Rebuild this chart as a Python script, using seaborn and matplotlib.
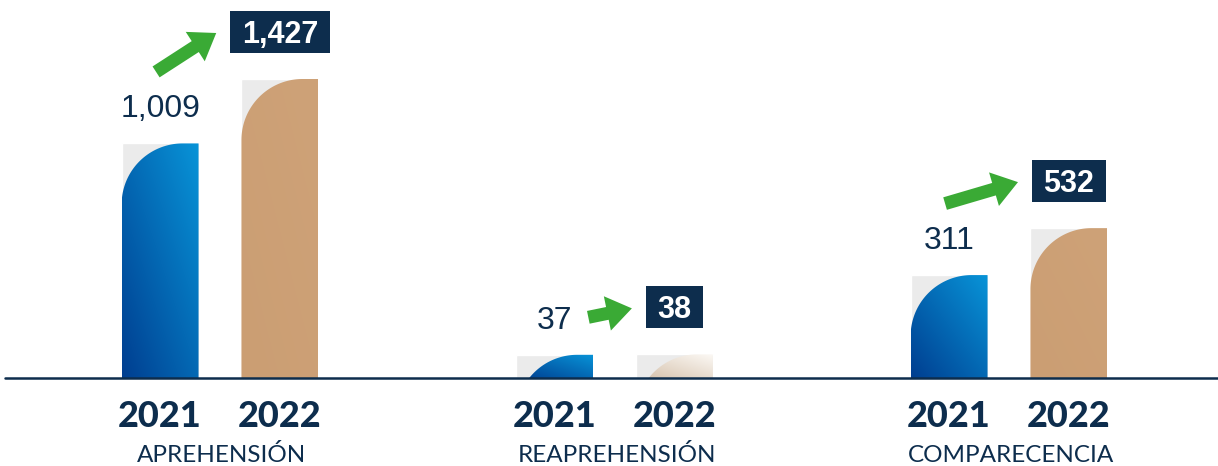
import numpy as np
import pandas as pd
import matplotlib
matplotlib.use("Agg")
import matplotlib.pyplot as plt
import seaborn as sns
from matplotlib.patches import PathPatch, Rectangle, FancyArrow
from matplotlib.path import Path
from matplotlib.lines import Line2D

# ---------------- data ----------------
categorias = ["APREHENSIÓN", "REAPREHENSIÓN", "COMPARECENCIA"]
anios = ["2021", "2022"]
valores_2021 = [1009, 37, 311]
valores_2022 = [1427, 38, 532]

# ---------------- style ----------------
W, H = 1218, 466
NAVY = "#0d2d4d"
GREY = "#ebebeb"
GREEN = "#3aaa35"
BLUE_GRAD = ((0, 62, 144), (8, 148, 216))
TAN_GRAD = ((203, 158, 115), (206, 162, 120))
FADE_GRAD = ((212, 192, 170), (252, 249, 245))
CORNER_R = 61

sns.set_theme(style="white")
plt.rcParams["font.family"] = ["Liberation Sans", "DejaVu Sans"]

df = pd.DataFrame({
    "categoria": categorias * 2,
    "anio": [anios[0]] * len(categorias) + [anios[1]] * len(categorias),
    "valor": valores_2021 + valores_2022,
})

fig = plt.figure(figsize=(W / 100, H / 100), dpi=100)
base_px = 378          # baseline position from top (px)
top_px = 299           # height of tallest bar (px)
ax = fig.add_axes([0, (H - base_px) / H, 1, base_px / H])

P = 0.7
def fwd(v):
    v = np.asarray(v, dtype=float)
    return np.sign(v) * np.abs(v) ** P
def inv(v):
    v = np.asarray(v, dtype=float)
    return np.sign(v) * np.abs(v) ** (1 / P)
ax.set_yscale("function", functions=(fwd, inv))

sns.barplot(data=df, x="categoria", y="valor", hue="anio", order=categorias,
            hue_order=anios, palette=[GREY, GREY], saturation=1, width=0.6076,
            gap=0.358, legend=False, errorbar=None, ax=ax)

unit = 394.5
ax.set_xlim(-220 / unit, (W - 220) / unit)
ymax = max(valores_2022) * (base_px / top_px) ** (1 / P)
ax.set_ylim(0, ymax)
ax.axis("off")

# overlay axes in pixel coordinates
ov = fig.add_axes([0, 0, 1, 1], zorder=3)
ov.set_autoscale_on(False)
ov.set_xlim(0, W)
ov.set_ylim(0, H)
ov.axis("off")

renderer = fig.canvas.get_renderer()

def rounded_path(L, R, B, T, r):
    cx, cy = L + r, T - r
    verts = [(R, B), (R, T), (cx, T)]
    for th in np.linspace(np.pi / 2, np.pi, 80):
        x, y = cx + r * np.cos(th), cy + r * np.sin(th)
        if y >= B:
            verts.append((x, y))
    if cy < B:
        dx = np.sqrt(max(r * r - (B - cy) ** 2, 0))
        verts.append((cx - dx, B))
    else:
        verts.append((L, B))
    verts.append((R, B))
    codes = [Path.MOVETO] + [Path.LINETO] * (len(verts) - 2) + [Path.CLOSEPOLY]
    return Path(verts, codes)

def gradient_img(c0, c1, n=200):
    u = np.linspace(0, 1, n)
    X, Y = np.meshgrid(u, u)
    t = ((X + Y) / 2)[..., None]
    c0 = np.array(c0) / 255.0
    c1 = np.array(c1) / 255.0
    return c0 + (c1 - c0) * t

bars = {}
for hi, cont in enumerate(ax.containers):
    for ci, bar in enumerate(cont):
        bb = bar.get_window_extent()
        bars[(hi, ci)] = (bb.x0, bb.x1, bb.y0, bb.y1)

base_y = None
for (hi, ci), (L, R, B, T) in bars.items():
    base_y = B
    if hi == 0:
        grad = BLUE_GRAD
    elif categorias[ci] == "REAPREHENSIÓN":
        grad = FADE_GRAD
    else:
        grad = TAN_GRAD
    path = rounded_path(L, R, B, T, CORNER_R)
    clip = PathPatch(path, transform=ov.transData, facecolor="none", edgecolor="none")
    im = ov.imshow(gradient_img(*grad), extent=[L, R, B, T], origin="lower",
                   interpolation="bilinear", aspect="auto", zorder=2)
    im.set_clip_path(clip)

# baseline
ov.add_line(Line2D([5, W], [base_y, base_y], color=NAVY, lw=1.8, zorder=4))

cap = lambda fs: 0.716 * fs * 100 / 72

for ci, cat in enumerate(categorias):
    v1, v2 = valores_2021[ci], valores_2022[ci]
    L1, R1, B1, T1 = bars[(0, ci)]
    L2, R2, B2, T2 = bars[(1, ci)]
    cx1, cx2 = (L1 + R1) / 2, (L2 + R2) / 2

    # 2021 value
    fs1 = 23
    ly = T1 + 37.5
    t1 = ov.text(cx1, ly - cap(fs1) / 2, f"{v1:,}", ha="center", va="baseline",
                 fontsize=fs1, color=NAVY, zorder=5)
    w1 = t1.get_window_extent(renderer).width

    # 2022 value in box
    fs2 = 22
    by = T2 + 47
    t2 = ov.text(cx2, by - cap(fs2) / 2, f"{v2:,}", ha="center", va="baseline",
                 fontsize=fs2, fontweight="bold", color="white", zorder=6)
    w2 = t2.get_window_extent(renderer).width
    pad = 11.5
    box_left = cx2 - w2 / 2 - pad
    ov.add_patch(Rectangle((box_left, by - 21), w2 + 2 * pad, 42,
                           facecolor=NAVY, edgecolor="none", zorder=5))

    # arrow
    tip = (box_left - 14, by - 1)
    if by - ly > 40:
        tail = (cx1 - 4, ly + 34)
    else:
        tail = (cx1 + w1 / 2 + 16, ly)
    ov.add_patch(FancyArrow(tail[0], tail[1], tip[0] - tail[0], tip[1] - tail[1],
                            width=13, head_width=35, head_length=25,
                            length_includes_head=True, color=GREEN, lw=0, zorder=5))

    # year labels
    for cx, yr in ((cx1, anios[0]), (cx2, anios[1])):
        ov.text(cx, H - 426.7, yr, ha="center", va="baseline", fontsize=26,
                fontweight="black", color=NAVY, family=["Lato", "DejaVu Sans"], zorder=5)
    # category label
    ov.text((cx1 + cx2) / 2 + 2, H - 462, cat, ha="center", va="baseline", fontsize=17.5,
            fontweight="normal", color=NAVY, family=["Lato", "DejaVu Sans"], zorder=5)

fig.savefig("out.png", dpi=100)
